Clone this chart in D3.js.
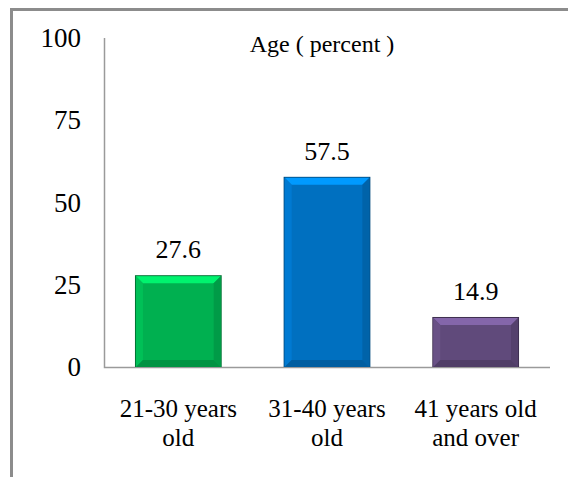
<!DOCTYPE html>
<html lang="en">
<head>
<meta charset="UTF-8">
<title>Age (percent)</title>
<script src="https://cdn.jsdelivr.net/npm/d3@7"></script>
<style>
  body { margin: 0; background: #fff; }
</style>
</head>
<body>
<svg class="chart"></svg>
<script>
// data
const categories = [["21-30 years", "old"], ["31-40 years", "old"], ["41 years old", "and over"]];
const values = [27.6, 57.5, 14.9];
const barColors = ["#00B050", "#0070C0", "#604A7B"];
const tickValues = [0, 25, 50, 75, 100];
const title = "Age ( percent )";

const width = 568, height = 477;
const svg = d3.select(".chart").attr("width", width).attr("height", height)
  .style("font-family", "'Liberation Serif', Tinos, serif");

// outer frame (only top and left edges show in the picture)
svg.append("path")
  .attr("d", "M11.5," + height + " V9.5 H" + width)
  .attr("fill", "none").attr("stroke", "#8c8c8c").attr("stroke-width", 3);

const x = d3.scaleBand().domain(d3.range(values.length)).range([104, 550]).paddingInner(0.43).paddingOuter(0.215);
const y = d3.scaleLinear().domain([0, 100]).range([367, 38]);

// axis lines
svg.append("path")
  .attr("d", "M104.5," + y(100) + " V" + (y(0) + 0.5) + " H550")
  .attr("fill", "none").attr("stroke", "#9a9a9a").attr("stroke-width", 1.5);

// y tick labels
svg.selectAll(".ytick").data(tickValues).join("text")
  .attr("class", "ytick")
  .attr("x", 81).attr("y", d => y(d) + 9)
  .attr("text-anchor", "end").attr("font-size", 27)
  .text(d => d);

// title
svg.append("text").attr("x", 322).attr("y", 52)
  .attr("text-anchor", "middle").attr("font-size", 24)
  .text(title);

// bevelled bars
const bev = 7;
const bars = svg.selectAll(".bar").data(values).join("g").attr("class", "bar");
bars.each(function (v, i) {
  const g = d3.select(this);
  const x0 = x(i), x1 = x(i) + x.bandwidth(), y0 = y(v), y1 = y(0);
  const c = d3.color(barColors[i]);
  g.append("rect").attr("x", x0 - 1).attr("y", y0 - 1).attr("width", x1 - x0 + 2).attr("height", y1 - y0 + 1)
    .attr("fill", c.darker(1.2));
  g.append("rect").attr("x", x0).attr("y", y0).attr("width", x1 - x0).attr("height", y1 - y0).attr("fill", c);
  const faces = [
    [[x0, y0], [x1, y0], [x1 - bev, y0 + bev], [x0 + bev, y0 + bev], c.brighter(0.9)],
    [[x0, y0], [x0 + bev, y0 + bev], [x0 + bev, y1 - bev], [x0, y1], c.brighter(0.25)],
    [[x1, y0], [x1, y1], [x1 - bev, y1 - bev], [x1 - bev, y0 + bev], c.darker(0.35)],
    [[x0, y1], [x0 + bev, y1 - bev], [x1 - bev, y1 - bev], [x1, y1], c.darker(0.5)]
  ];
  faces.forEach(f => {
    g.append("polygon").attr("points", f.slice(0, 4).map(p => p.join(",")).join(" ")).attr("fill", f[4]);
  });
});

// value labels
svg.selectAll(".val").data(values).join("text")
  .attr("class", "val")
  .attr("x", (d, i) => x(i) + x.bandwidth() / 2)
  .attr("y", d => y(d) - 18)
  .attr("text-anchor", "middle").attr("font-size", 26)
  .text(d => d.toFixed(1));

// category labels
const cat = svg.selectAll(".cat").data(categories).join("text")
  .attr("class", "cat")
  .attr("text-anchor", "middle").attr("font-size", 25);
cat.selectAll("tspan").data(d => d).join("tspan")
  .attr("x", function () { const i = categories.indexOf(d3.select(this.parentNode).datum()); return x(i) + x.bandwidth() / 2; })
  .attr("y", (d, j) => 417 + j * 29)
  .text(d => d);
</script>
</body>
</html>
